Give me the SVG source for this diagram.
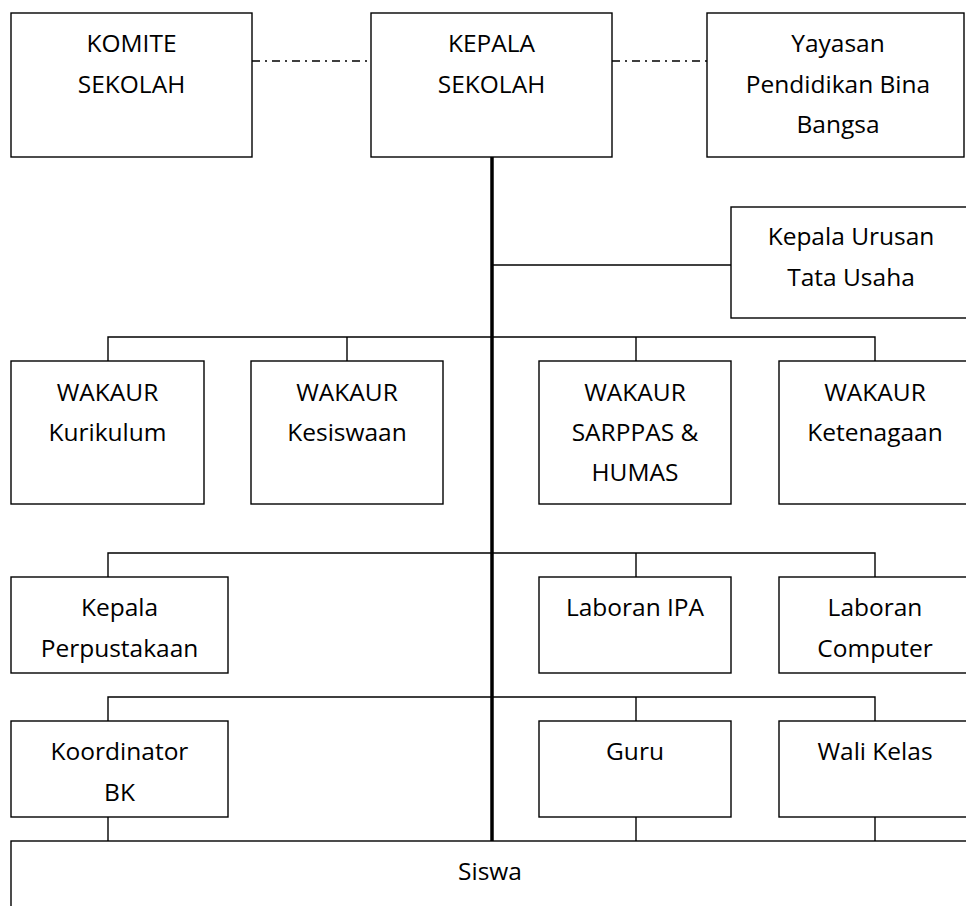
<svg xmlns="http://www.w3.org/2000/svg" width="966" height="906" viewBox="0 0 966 906">
<style>
  .box { fill: #ffffff; stroke: #000000; stroke-width: 1.4; }
  .ln { fill: none; stroke: #000000; stroke-width: 1.4; }
  .main { fill: none; stroke: #000000; stroke-width: 3.5; }
  .dd { fill: none; stroke: #000000; stroke-width: 1.4; stroke-dasharray: 8 5 2 5; }
  text { font-family: "Open Sans", "Noto Sans", sans-serif; font-size: 24.5px; fill: #000000; text-anchor: middle; }
</style>
<rect width="966" height="906" fill="#ffffff"/>
<g id="komite">
  <rect class="box" x="11" y="13" width="241" height="144"/>
  <text x="131.5" y="52">KOMITE</text>
  <text x="131.5" y="93">SEKOLAH</text>
</g>
<g id="kepala-sekolah">
  <rect class="box" x="371" y="13" width="241" height="144"/>
  <text x="491.5" y="52">KEPALA</text>
  <text x="491.5" y="93">SEKOLAH</text>
</g>
<g id="yayasan">
  <rect class="box" x="707" y="13" width="257" height="144"/>
  <text x="838" y="52">Yayasan</text>
  <text x="838" y="93">Pendidikan Bina</text>
  <text x="838" y="133">Bangsa</text>
</g>
<g id="tata-usaha">
  <rect class="box" x="731" y="207" width="240" height="111"/>
  <text x="851" y="245">Kepala Urusan</text>
  <text x="851" y="286">Tata Usaha</text>
</g>
<g id="wakaur-kurikulum">
  <rect class="box" x="11" y="361" width="193" height="143"/>
  <text x="107.5" y="401">WAKAUR</text>
  <text x="107.5" y="441">Kurikulum</text>
</g>
<g id="wakaur-kesiswaan">
  <rect class="box" x="251" y="361" width="192" height="143"/>
  <text x="347" y="401">WAKAUR</text>
  <text x="347" y="441">Kesiswaan</text>
</g>
<g id="wakaur-sarppas">
  <rect class="box" x="539" y="361" width="192" height="143"/>
  <text x="635" y="401">WAKAUR</text>
  <text x="635" y="441">SARPPAS &amp;</text>
  <text x="635" y="481">HUMAS</text>
</g>
<g id="wakaur-ketenagaan">
  <rect class="box" x="779" y="361" width="192" height="143"/>
  <text x="875" y="401">WAKAUR</text>
  <text x="875" y="441">Ketenagaan</text>
</g>
<g id="perpustakaan">
  <rect class="box" x="11" y="577" width="217" height="96"/>
  <text x="119.5" y="616">Kepala</text>
  <text x="119.5" y="657">Perpustakaan</text>
</g>
<g id="laboran-ipa">
  <rect class="box" x="539" y="577" width="192" height="96"/>
  <text x="635" y="616">Laboran IPA</text>
</g>
<g id="laboran-computer">
  <rect class="box" x="779" y="577" width="192" height="96"/>
  <text x="875" y="616">Laboran</text>
  <text x="875" y="657">Computer</text>
</g>
<g id="koordinator-bk">
  <rect class="box" x="11" y="721" width="217" height="96"/>
  <text x="119.5" y="760">Koordinator</text>
  <text x="119.5" y="801">BK</text>
</g>
<g id="guru">
  <rect class="box" x="539" y="721" width="192" height="96"/>
  <text x="635" y="760">Guru</text>
</g>
<g id="wali-kelas">
  <rect class="box" x="779" y="721" width="192" height="96"/>
  <text x="875" y="760">Wali Kelas</text>
</g>
<g id="siswa">
  <rect class="box" x="11" y="841" width="970" height="80"/>
  <text x="490" y="880">Siswa</text>
</g>
<g id="connectors">
  <line class="dd" x1="252" y1="61" x2="371" y2="61"/>
  <line class="dd" x1="612" y1="61" x2="707" y2="61"/>
  <line class="ln" x1="492" y1="265" x2="731" y2="265"/>
  <polyline class="ln" points="108,361 108,337 875,337 875,361"/>
  <line class="ln" x1="347" y1="337" x2="347" y2="361"/>
  <line class="ln" x1="636" y1="337" x2="636" y2="361"/>
  <polyline class="ln" points="108,577 108,553 875,553 875,577"/>
  <line class="ln" x1="636" y1="553" x2="636" y2="577"/>
  <polyline class="ln" points="108,721 108,697 875,697 875,721"/>
  <line class="ln" x1="636" y1="697" x2="636" y2="721"/>
  <line class="ln" x1="108" y1="817" x2="108" y2="841"/>
  <line class="ln" x1="636" y1="817" x2="636" y2="841"/>
  <line class="ln" x1="875" y1="817" x2="875" y2="841"/>
  <line class="main" x1="492" y1="157" x2="492" y2="841"/>
</g>
</svg>
